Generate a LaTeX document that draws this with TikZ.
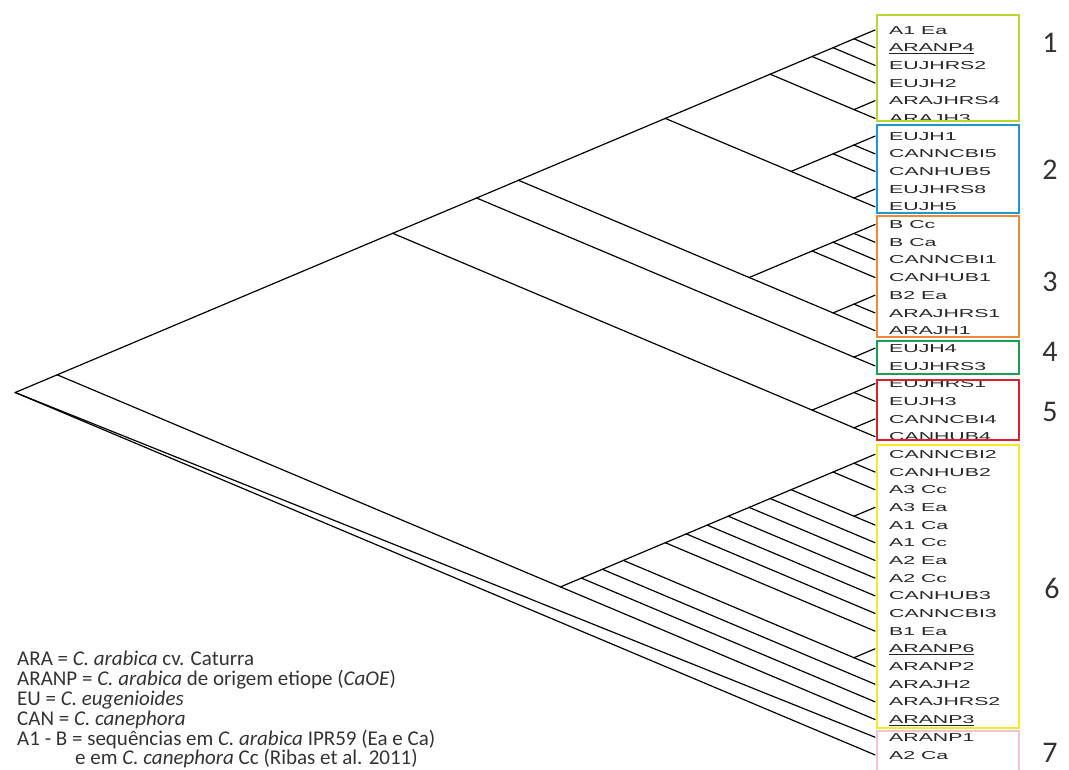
\documentclass[tikz,border=0pt]{standalone}
\usepackage{fontspec}
\setmainfont{Carlito}
\newfontfamily\tipfont[FakeStretch=1.85]{Liberation Sans}
\definecolor{grpone}{RGB}{185,214,52}
\definecolor{grptwo}{RGB}{32,150,210}
\definecolor{grpthree}{RGB}{238,138,52}
\definecolor{grpfour}{RGB}{30,158,84}
\definecolor{grpfive}{RGB}{218,34,44}
\definecolor{grpsix}{RGB}{244,234,40}
\definecolor{grpseven}{RGB}{244,196,212}
\begin{document}
\begin{tikzpicture}[x=1pt,y=-1pt,
    branch/.style={line width=1.2pt,line cap=round},
    tip/.style={anchor=west,inner xsep=14pt,inner ysep=0pt,text height=8.2pt,text depth=0pt,
        text=black!85,font={\fontsize{11.5}{12}\tipfont}},
    grp/.style={line width=2.6pt},
    num/.style={inner sep=0pt,text=black!80,font=\fontsize{30}{30}\selectfont},
    key/.style={anchor=base west,inner sep=0pt,text=black!80,font=\fontsize{21}{21}\selectfont}
]
\useasboundingbox (0,0) rectangle (1069,769);

\coordinate (R)      at (15.2,392.5);
\coordinate (s0_39)  at (57.2,374.8);
\coordinate (s0_23)  at (392.7,233.3);
\coordinate (s0_19)  at (476.6,198.0);
\coordinate (s0_17)  at (518.5,180.3);
\coordinate (s0_10)  at (665.3,118.4);
\coordinate (s0_5)   at (770.2,74.2);
\coordinate (s0_3)   at (812.1,56.5);
\coordinate (s0_2)   at (833.1,47.7);
\coordinate (s0_1)   at (854.0,38.8);
\coordinate (s4_5)   at (854.0,109.6);
\coordinate (s6_10)  at (791.1,171.4);
\coordinate (s6_8)   at (833.1,153.8);
\coordinate (s6_7)   at (854.0,145.0);
\coordinate (s9_10)  at (854.0,198.0);
\coordinate (s11_17) at (749.2,277.5);
\coordinate (s11_14) at (812.1,251.0);
\coordinate (s11_13) at (833.1,242.2);
\coordinate (s11_12) at (854.0,233.4);
\coordinate (s15_17) at (833.1,312.9);
\coordinate (s15_16) at (854.0,304.1);
\coordinate (s18_19) at (854.0,357.1);
\coordinate (s20_23) at (812.1,410.1);
\coordinate (s20_21) at (854.0,392.5);
\coordinate (s22_23) at (854.0,427.8);
\coordinate (s24_39) at (560.5,586.9);
\coordinate (s24_38) at (581.4,578.1);
\coordinate (s24_37) at (602.4,569.3);
\coordinate (s24_36) at (623.4,560.4);
\coordinate (s35_36) at (854.0,657.7);
\coordinate (s24_34) at (665.3,542.7);
\coordinate (s24_33) at (686.3,533.9);
\coordinate (s24_32) at (707.2,525.1);
\coordinate (s24_31) at (728.2,516.2);
\coordinate (s24_30) at (749.2,507.4);
\coordinate (s24_29) at (770.2,498.5);
\coordinate (s24_28) at (791.1,489.7);
\coordinate (s27_28) at (854.0,516.2);
\coordinate (s24_26) at (833.1,472.0);
\coordinate (s24_25) at (854.0,463.2);

\node[tip] (A1Ea)     at (875,30.0)  {A1 Ea};
\node[tip] (ARANP4)   at (875,47.7)  {\underline{ARANP4}};
\node[tip] (EUJHRS2)  at (875,65.4)  {EUJHRS2};
\node[tip] (EUJH2)    at (875,83.0)  {EUJH2};
\node[tip] (ARAJHRS4) at (875,100.7) {ARAJHRS4};
\node[tip] (ARAJH3)   at (875,118.4) {ARAJH3};
\node[tip] (EUJH1)    at (875,136.1) {EUJH1};
\node[tip] (CANNCBI5) at (875,153.8) {CANNCBI5};
\node[tip] (CANHUB5)  at (875,171.4) {CANHUB5};
\node[tip] (EUJHRS8)  at (875,189.1) {EUJHRS8};
\node[tip] (EUJH5)    at (875,206.8) {EUJH5};
\node[tip] (BCc)      at (875,224.5) {B Cc};
\node[tip] (BCa)      at (875,242.2) {B Ca};
\node[tip] (CANNCBI1) at (875,259.8) {CANNCBI1};
\node[tip] (CANHUB1)  at (875,277.5) {CANHUB1};
\node[tip] (B2Ea)     at (875,295.2) {B2 Ea};
\node[tip] (ARAJHRS1) at (875,312.9) {ARAJHRS1};
\node[tip] (ARAJH1)   at (875,330.6) {ARAJH1};
\node[tip] (EUJH4)    at (875,348.2) {EUJH4};
\node[tip] (EUJHRS3)  at (875,365.9) {EUJHRS3};
\node[tip] (EUJHRS1)  at (875,383.6) {EUJHRS1};
\node[tip] (EUJH3)    at (875,401.3) {EUJH3};
\node[tip] (CANNCBI4) at (875,419.0) {CANNCBI4};
\node[tip] (CANHUB4)  at (875,436.6) {CANHUB4};
\node[tip] (CANNCBI2) at (875,454.3) {CANNCBI2};
\node[tip] (CANHUB2)  at (875,472.0) {CANHUB2};
\node[tip] (A3Cc)     at (875,489.7) {A3 Cc};
\node[tip] (A3Ea)     at (875,507.4) {A3 Ea};
\node[tip] (A1Ca)     at (875,525.0) {A1 Ca};
\node[tip] (A1Cc)     at (875,542.7) {A1 Cc};
\node[tip] (A2Ea)     at (875,560.4) {A2 Ea};
\node[tip] (A2Cc)     at (875,578.1) {A2 Cc};
\node[tip] (CANHUB3)  at (875,595.8) {CANHUB3};
\node[tip] (CANNCBI3) at (875,613.4) {CANNCBI3};
\node[tip] (B1Ea)     at (875,631.1) {B1 Ea};
\node[tip] (ARANP6)   at (875,648.8) {\underline{ARANP6}};
\node[tip] (ARANP2)   at (875,666.5) {ARANP2};
\node[tip] (ARAJH2)   at (875,684.2) {ARAJH2};
\node[tip] (ARAJHRS2) at (875,701.8) {ARAJHRS2};
\node[tip] (ARANP3)   at (875,719.5) {\underline{ARANP3}};
\node[tip] (ARANP1)   at (875,737.2) {ARANP1};
\node[tip] (A2Ca)     at (875,754.9) {A2 Ca};

\draw[branch] (R) -- (s0_39);
\draw[branch] (R) -- (ARANP1.west);
\draw[branch] (R) -- (A2Ca.west);
\draw[branch] (s0_39) -- (s0_23);
\draw[branch] (s0_39) -- (s24_39);
\draw[branch] (s0_23) -- (s0_19);
\draw[branch] (s0_23) -- (s20_23);
\draw[branch] (s0_19) -- (s0_17);
\draw[branch] (s0_19) -- (s18_19);
\draw[branch] (s0_17) -- (s0_10);
\draw[branch] (s0_17) -- (s11_17);
\draw[branch] (s0_10) -- (s0_5);
\draw[branch] (s0_10) -- (s6_10);
\draw[branch] (s0_5) -- (s0_3);
\draw[branch] (s0_5) -- (s4_5);
\draw[branch] (s0_3) -- (s0_2);
\draw[branch] (s0_3) -- (EUJH2.west);
\draw[branch] (s0_2) -- (s0_1);
\draw[branch] (s0_2) -- (EUJHRS2.west);
\draw[branch] (s0_1) -- (A1Ea.west);
\draw[branch] (s0_1) -- (ARANP4.west);
\draw[branch] (s4_5) -- (ARAJHRS4.west);
\draw[branch] (s4_5) -- (ARAJH3.west);
\draw[branch] (s6_10) -- (s6_8);
\draw[branch] (s6_10) -- (s9_10);
\draw[branch] (s6_8) -- (s6_7);
\draw[branch] (s6_8) -- (CANHUB5.west);
\draw[branch] (s6_7) -- (EUJH1.west);
\draw[branch] (s6_7) -- (CANNCBI5.west);
\draw[branch] (s9_10) -- (EUJHRS8.west);
\draw[branch] (s9_10) -- (EUJH5.west);
\draw[branch] (s11_17) -- (s11_14);
\draw[branch] (s11_17) -- (s15_17);
\draw[branch] (s11_14) -- (s11_13);
\draw[branch] (s11_14) -- (CANHUB1.west);
\draw[branch] (s11_13) -- (s11_12);
\draw[branch] (s11_13) -- (CANNCBI1.west);
\draw[branch] (s11_12) -- (BCc.west);
\draw[branch] (s11_12) -- (BCa.west);
\draw[branch] (s15_17) -- (s15_16);
\draw[branch] (s15_17) -- (ARAJH1.west);
\draw[branch] (s15_16) -- (B2Ea.west);
\draw[branch] (s15_16) -- (ARAJHRS1.west);
\draw[branch] (s18_19) -- (EUJH4.west);
\draw[branch] (s18_19) -- (EUJHRS3.west);
\draw[branch] (s20_23) -- (s20_21);
\draw[branch] (s20_23) -- (s22_23);
\draw[branch] (s20_21) -- (EUJHRS1.west);
\draw[branch] (s20_21) -- (EUJH3.west);
\draw[branch] (s22_23) -- (CANNCBI4.west);
\draw[branch] (s22_23) -- (CANHUB4.west);
\draw[branch] (s24_39) -- (s24_38);
\draw[branch] (s24_39) -- (ARANP3.west);
\draw[branch] (s24_38) -- (s24_37);
\draw[branch] (s24_38) -- (ARAJHRS2.west);
\draw[branch] (s24_37) -- (s24_36);
\draw[branch] (s24_37) -- (ARAJH2.west);
\draw[branch] (s24_36) -- (s24_34);
\draw[branch] (s24_36) -- (s35_36);
\draw[branch] (s35_36) -- (ARANP6.west);
\draw[branch] (s35_36) -- (ARANP2.west);
\draw[branch] (s24_34) -- (s24_33);
\draw[branch] (s24_34) -- (B1Ea.west);
\draw[branch] (s24_33) -- (s24_32);
\draw[branch] (s24_33) -- (CANNCBI3.west);
\draw[branch] (s24_32) -- (s24_31);
\draw[branch] (s24_32) -- (CANHUB3.west);
\draw[branch] (s24_31) -- (s24_30);
\draw[branch] (s24_31) -- (A2Cc.west);
\draw[branch] (s24_30) -- (s24_29);
\draw[branch] (s24_30) -- (A2Ea.west);
\draw[branch] (s24_29) -- (s24_28);
\draw[branch] (s24_29) -- (A1Cc.west);
\draw[branch] (s24_28) -- (s24_26);
\draw[branch] (s24_28) -- (s27_28);
\draw[branch] (s27_28) -- (A3Ea.west);
\draw[branch] (s27_28) -- (A1Ca.west);
\draw[branch] (s24_26) -- (s24_25);
\draw[branch] (s24_26) -- (A3Cc.west);
\draw[branch] (s24_25) -- (CANNCBI2.west);
\draw[branch] (s24_25) -- (CANHUB2.west);

\draw[grp,draw=grpone]   (877,15) rectangle (1019,121);
\draw[grp,draw=grptwo]   (877,125) rectangle (1019,213);
\draw[grp,draw=grpthree] (877,216) rectangle (1019,337);
\draw[grp,draw=grpfour]  (877,341) rectangle (1019,374);
\draw[grp,draw=grpfive]  (877,380) rectangle (1019,440);
\draw[grp,draw=grpsix]   (877,445) rectangle (1019,728);
\draw[grp,draw=grpseven] (877,770) -- (877,731) -- (1019,731) -- (1019,770);

\node[num] (g1) at (1050,43)  {1};
\node[num] (g2) at (1050,170) {2};
\node[num] (g3) at (1050,282) {3};
\node[num] (g4) at (1050,352) {4};
\node[num] (g5) at (1050,412) {5};
\node[num] (g6) at (1052,588) {6};
\node[num] (g7) at (1050,753) {7};

\node[key] (kARA)   at (17,665) {ARA = \textit{C. arabica} cv. Caturra};
\node[key] (kARANP) at (17,685) {ARANP = \textit{C. arabica} de origem etiope (\textit{CaOE})};
\node[key] (kEU)    at (17,705) {EU = \textit{C. eugenioides}};
\node[key] (kCAN)   at (17,725) {CAN = \textit{C. canephora}};
\node[key] (kA1B)   at (17,745) {A1 - B = sequências em \textit{C. arabica} IPR59 (Ea e Ca)};
\node[key] (kRibas) at (75,764) {e em \textit{C. canephora} Cc (Ribas et al. 2011)};
\end{tikzpicture}
\end{document}
